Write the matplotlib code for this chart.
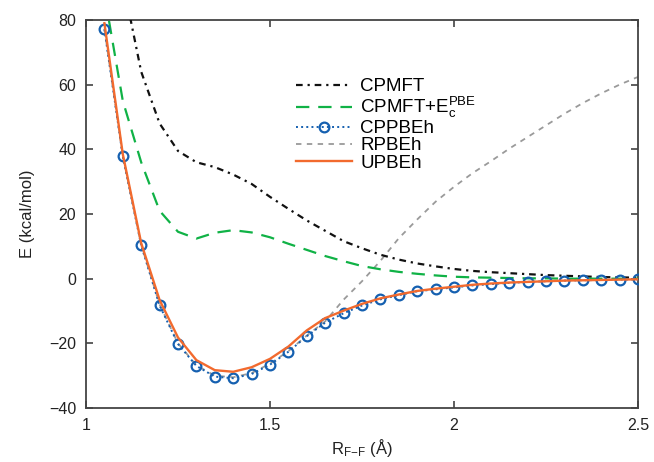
import matplotlib
matplotlib.use("Agg")
import matplotlib.pyplot as plt

plt.rcParams['font.family'] = ['Liberation Sans', 'DejaVu Sans']
plt.rcParams['mathtext.fontset'] = 'custom'
plt.rcParams['mathtext.rm'] = 'Liberation Sans'
plt.rcParams['mathtext.it'] = 'Liberation Sans'
plt.rcParams['axes.unicode_minus'] = True

r = [1.05, 1.10, 1.15, 1.20, 1.25, 1.30, 1.35, 1.40, 1.45, 1.50,
     1.55, 1.60, 1.65, 1.70, 1.75, 1.80, 1.85, 1.90, 1.95, 2.00,
     2.05, 2.10, 2.15, 2.20, 2.25, 2.30, 2.35, 2.40, 2.45, 2.50]

cpmft = [120, 92, 64, 48, 39.5, 36, 34.5, 32.2, 29.3, 25.3,
         21.6, 18.0, 14.8, 11.6, 9.4, 7.4, 5.9, 4.7, 3.8, 3.0,
         2.4, 2.0, 1.7, 1.4, 1.1, 0.9, 0.7, 0.5, 0.4, 0.3]

cpmft_ec = [88, 55, 36, 21, 14.5, 12.4, 14.2, 15.0, 14.3, 12.8,
            10.8, 8.9, 7.0, 5.4, 3.9, 2.9, 2.1, 1.5, 1.0, 0.6,
            0.4, 0.3, 0.2, 0.1, 0.1, 0.0, 0.0, 0.0, 0.0, 0.0]

cppbeh = [77.1, 37.8, 10.3, -8.3, -20.2, -27.0, -30.3, -30.8, -29.5, -26.6,
          -22.6, -17.8, -13.6, -10.7, -8.3, -6.4, -5.1, -3.9, -3.3, -2.7,
          -2.1, -1.7, -1.3, -1.0, -0.8, -0.6, -0.5, -0.4, -0.3, -0.2]

rpbeh = [77.3, 38.0, 10.5, -8.0, -20.0, -26.8, -30.0, -30.5, -29.2, -26.3,
         -22.4, -17.6, -13.2, -6.5, -0.8, 5.5, 12.5, 18.3, 23.8, 28.4,
         32.6, 36.3, 40.2, 43.8, 47.4, 51.0, 54.3, 57.3, 60.0, 62.4]

upbeh = [79, 38.5, 11.0, -6.6, -18.2, -25.2, -28.3, -28.8, -27.4, -24.8,
         -21.0, -16.0, -12.2, -9.9, -7.8, -6.1, -4.9, -3.8, -3.1, -2.5,
         -1.9, -1.5, -1.2, -1.0, -0.8, -0.6, -0.5, -0.4, -0.3, -0.2]

xticks = [1, 1.5, 2, 2.5]
xticklabels = ['1', '1.5', '2', '2.5']
yticks = [-40, -20, 0, 20, 40, 60, 80]

fig = plt.figure(figsize=(6.54, 4.62), dpi=100)
ax = fig.add_axes([0.1315, 0.1169, 0.844, 0.8398])

ax.plot(r, cpmft, color='#111111', lw=1.6, dashes=(3, 2.2, 1, 2.2),
        label='CPMFT', zorder=3)
ax.plot(r, cpmft_ec, color='#10b246', lw=1.6, dashes=(6, 4),
        label=r'CPMFT+E$_\mathregular{c}^\mathregular{PBE}$', zorder=3)
ax.plot(r, cppbeh, color='#1560b0', lw=1.4, ls=':', marker='o', ms=7,
        mfc='none', mec='#1560b0', mew=1.6, label='CPPBEh', zorder=4)
ax.plot(r, rpbeh, color='#9a9a9a', lw=1.3, dashes=(3, 3),
        label='RPBEh', zorder=2)
ax.plot(r, upbeh, color='#f26a2e', lw=1.7, label='UPBEh', zorder=5)

ax.set_xlim(1, 2.5)
ax.set_ylim(-40, 80)
ax.set_xticks(xticks)
ax.set_xticklabels(xticklabels)
ax.set_yticks(yticks)

ax.tick_params(direction='in', length=5, width=1.1, top=True, right=True,
               labelsize=11.5, colors='#333333', labelcolor='#222222', pad=7)
for s in ax.spines.values():
    s.set_color('#444444')
    s.set_linewidth(1.3)

ax.set_xlabel(r'R$_\mathregular{F\!-\!F}$ (Å)', fontsize=12, color='#222222', labelpad=3)
ax.set_ylabel('E (kcal/mol)', fontsize=12, color='#222222', labelpad=10)

leg = ax.legend(loc='upper left', bbox_to_anchor=(0.366, 0.87), frameon=False,
                fontsize=13.5, handlelength=3.0, handletextpad=0.45,
                labelspacing=0.0, borderaxespad=0)

fig.savefig('out.png', dpi=100)
